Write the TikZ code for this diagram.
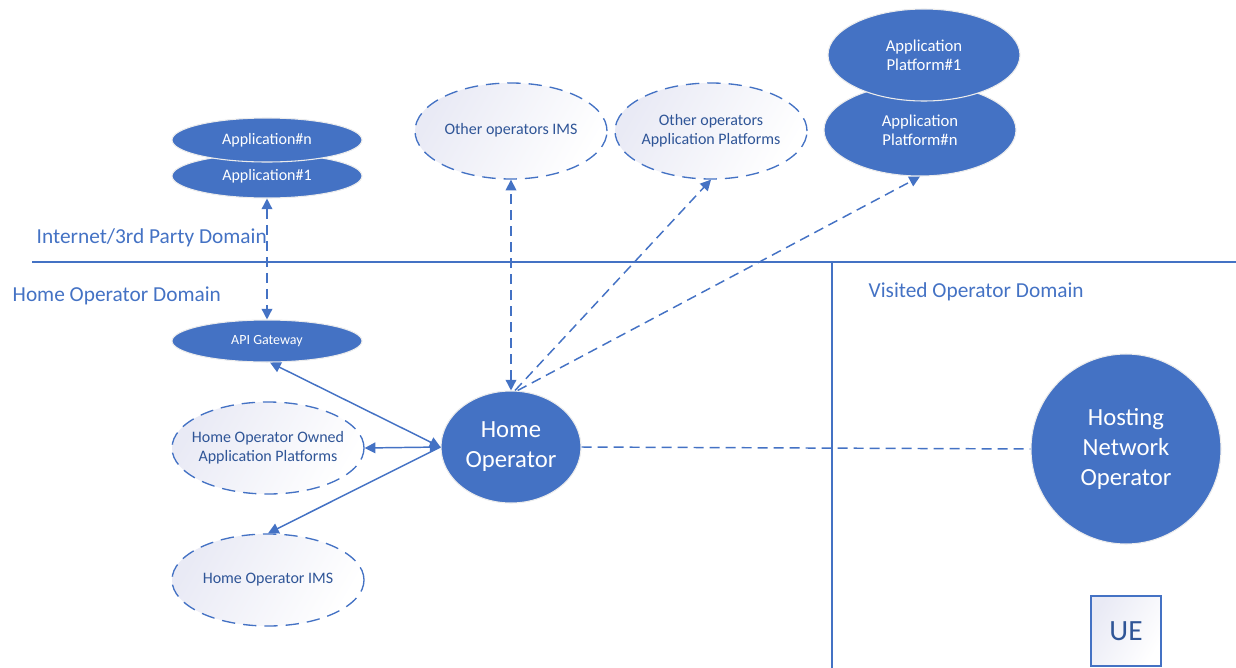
\documentclass[tikz,border=0pt]{standalone}
\usepackage{fontspec}
\setmainfont{Carlito}
\usepackage{tikz}
\usetikzlibrary{shapes.geometric, arrows.meta, positioning}
\definecolor{hoblue}{HTML}{4472C4}
\definecolor{hodark}{HTML}{2F5597}
\definecolor{hoshade}{HTML}{E9EAF5}
% keeps wide text from growing the ellipse
\newcommand{\squeeze}[1]{\makebox[0pt]{\begin{tabular}{@{}c@{}}#1\end{tabular}}}

\begin{document}
\begin{tikzpicture}[x=0.75pt, y=-0.75pt,
        solidnode/.style={ellipse, fill=hoblue, draw=white!85!gray, line width=0.8pt, text=white, inner sep=0pt, align=center},
        dashnode/.style={ellipse, draw=hoblue, line width=1pt, dash pattern=on 10pt off 6pt, top color=hoshade, bottom color=white, shading angle=60, text=hodark, inner sep=0pt, align=center, font=\fontsize{12}{14.5}\selectfont},
        domainlabel/.style={anchor=west, text=hoblue, font=\fontsize{16}{19}\selectfont},
        arrow/.style={{Triangle[length=8pt,width=8pt]}-{Triangle[length=8pt,width=8pt]}, hoblue, line width=1.1pt},
        oneway/.style={-{Triangle[length=8pt,width=8pt]}, hoblue, line width=1.1pt},
        dasharrow/.style={oneway, dash pattern=on 7.5pt off 4.5pt}
    ]
        \useasboundingbox (0,0) rectangle (1236,668);

        % domain borders
        \coordinate (hl) at (32,262);
        \coordinate (hr) at (1236,262);
        \coordinate (vt) at (832,262);
        \coordinate (vb) at (832,668);
        \draw[hoblue, line width=1.1pt] (hl) -- (hr);
        \draw[hoblue, line width=1.1pt] (vt) -- (vb);
        \node[domainlabel] (D1) at (32,238) {Internet/3rd Party Domain};
        \node[domainlabel] (D2) at (8,296) {Home Operator Domain};
        \node[domainlabel] (D3) at (864,292) {Visited Operator Domain};

        % third party side
        \node[solidnode, minimum width=142.5pt, minimum height=33pt, font=\fontsize{12}{14}\selectfont] (A1) at (267,176) {Application\#1};
        \node[solidnode, minimum width=142.5pt, minimum height=33pt, font=\fontsize{12}{14}\selectfont] (An) at (267,140) {Application\#n};
        \node[dashnode, minimum width=144pt, minimum height=72pt] (OIMS) at (511,131) {\squeeze{Other operators IMS}};
        \node[dashnode, minimum width=144pt, minimum height=72pt] (OAP) at (711,131) {\squeeze{Other operators\\Application Platforms}};
        \node[solidnode, minimum width=144pt, minimum height=69pt, font=\fontsize{12.5}{14.5}\selectfont] (APn) at (920,130) {Application\\Platform\#n};
        \node[solidnode, minimum width=144pt, minimum height=69pt, font=\fontsize{12.5}{14.5}\selectfont] (AP1) at (924,55) {Application\\Platform\#1};

        % home operator side
        \node[solidnode, minimum width=142.5pt, minimum height=31.5pt, font=\fontsize{10.5}{12}\selectfont] (API) at (267,341) {API Gateway};
        \node[dashnode, minimum width=144pt, minimum height=69pt] (HOAP) at (268,448) {\squeeze{Home Operator Owned\\Application Platforms}};
        \node[dashnode, minimum width=144pt, minimum height=69pt] (HOIMS) at (268,580) {\squeeze{Home Operator IMS}};
        \node[solidnode, minimum width=105pt, minimum height=84pt, font=\fontsize{18.5}{22.5}\selectfont] (HO) at (511,447) {Home\\Operator};

        % visited side
        \node[solidnode, circle, minimum size=142.5pt, font=\fontsize{18.5}{22.5}\selectfont] (HN) at (1126,449) {Hosting\\Network\\Operator};
        \node[rectangle, draw=hoblue, line width=1.5pt, top color=hoshade, bottom color=white, shading angle=60, minimum size=53pt, text=hodark, font=\fontsize{22}{24}\selectfont] (UE) at (1126,631) {UE};

        % connectors
        \draw[dasharrow, {Triangle[length=8pt,width=8pt]}-{Triangle[length=8pt,width=8pt]}] (A1.south) -- (API.north);
        \draw[arrow] (API.-82) -- (HO.west);
        \draw[arrow] (HOAP.east) -- (HO.west);
        \draw[oneway] (HO.west) -- (HOIMS.north);
        \draw[dasharrow, {Triangle[length=8pt,width=8pt]}-{Triangle[length=8pt,width=8pt]}] (HO.north) -- (OIMS.south);
        \draw[dasharrow] ([xshift=3pt]HO.north) -- (OAP.south);
        \draw[dasharrow] ([xshift=5pt]HO.north) -- (APn.south);
        \draw[hoblue, line width=1.1pt, dash pattern=on 7.5pt off 4.5pt] (HO.east) -- (HN.west);
    \end{tikzpicture}
\end{document}
